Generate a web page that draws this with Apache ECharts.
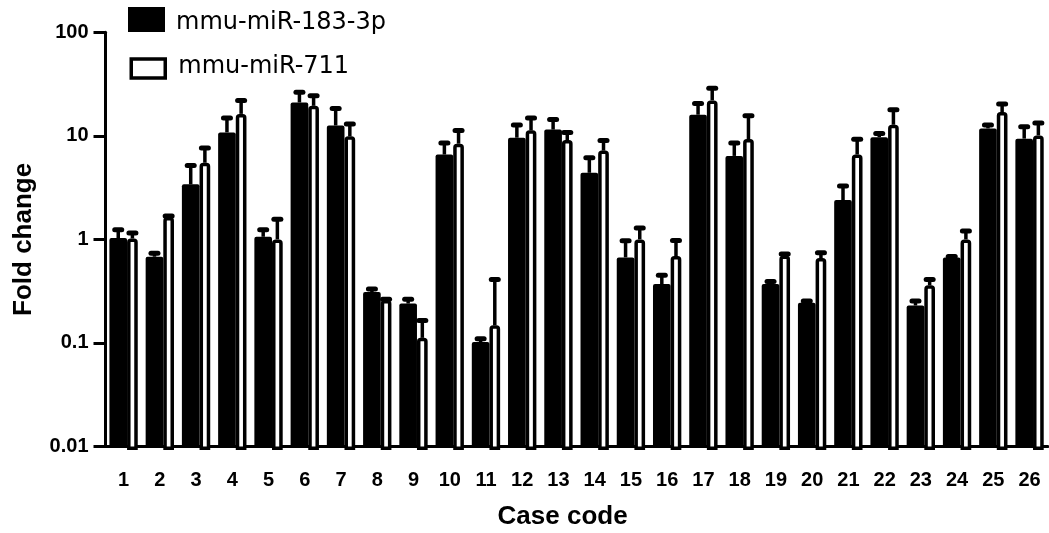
<!DOCTYPE html>
<html><head><meta charset="utf-8">
<script src="https://cdn.jsdelivr.net/npm/echarts@6/dist/echarts.min.js"></script>
<style>html,body{margin:0;padding:0;background:#fff}#c{width:1049px;height:533px}</style>
</head><body><div id="c"></div>
<script>
const categories = ['1','2','3','4','5','6','7','8','9','10','11','12','13','14','15','16','17','18','19','20','21','22','23','24','25','26'];
const mir183 =    [1.03, 0.68, 3.4, 10.8, 1.06, 21, 12.6, 0.31, 0.24, 6.6, 0.102, 9.6, 11.5, 4.4, 0.67, 0.37, 16, 6.4, 0.37, 0.245, 2.4, 9.7, 0.23, 0.67, 11.8, 9.4];
const mir183Err = [1.27, 0.75, 5.3, 15.2, 1.27, 27, 18.8, 0.34, 0.27, 8.7, 0.112, 13, 14.7, 6.3, 0.99, 0.46, 21, 8.7, 0.40, 0.26, 3.35, 10.8, 0.26, 0.70, 13, 12.5];
const mir711 =    [1.02, 1.65, 5.5, 16.3, 1.0, 19.5, 9.9, 0.26, 0.112, 8.4, 0.148, 11.3, 9.1, 7.2, 1.0, 0.69, 22, 9.3, 0.70, 0.66, 6.6, 12.8, 0.36, 1.0, 17, 10.1];
const mir711Err = [1.18, 1.72, 7.8, 22.5, 1.6, 25, 13.3, 0.27, 0.168, 11.5, 0.42, 15.2, 11, 9.2, 1.32, 1.0, 29.5, 16, 0.74, 0.76, 9.5, 18.3, 0.42, 1.23, 20.8, 13.6];
const yTickLabels = ['0.01','0.1','1','10','100'];
const seriesNames = ['mmu-miR-183-3p','mmu-miR-711'];

const chart = echarts.init(document.getElementById('c'));

function makeRender(x0f, x1f, filled) {
  return function (params, api) {
    const i = api.value(0);
    const top = api.coord([i, api.value(1)]);
    const base = api.coord([i, 0.01]);
    const errPt = api.coord([i, api.value(2)]);
    const bw = api.size([1, 0])[0];
    const cx = top[0];
    const xl = cx + x0f * bw, xr = cx + x1f * bw;
    const mid = (xl + xr) / 2;
    const children = [];
    children.push({type: 'line', shape: {x1: mid, y1: top[1], x2: mid, y2: errPt[1]}, style: {stroke: '#000', lineWidth: 3.5}});
    children.push({type: 'line', shape: {x1: mid - 3.5, y1: errPt[1] + 1, x2: mid + 3.5, y2: errPt[1] + 1}, style: {stroke: '#000', lineWidth: 5, lineCap: 'round'}});
    if (filled) {
      children.push({type: 'rect', shape: {x: xl, y: top[1], width: xr - xl, height: base[1] - top[1], r: [2, 2, 0, 0]}, style: {fill: '#000'}});
    } else {
      const b = 3.5;
      children.push({type: 'rect', shape: {x: xl + b / 2, y: top[1] + b / 2, width: xr - xl - b, height: base[1] - top[1], r: [2, 2, 0, 0]}, style: {fill: '#fff', stroke: '#000', lineWidth: b}});
    }
    return {type: 'group', children};
  };
}

const fontB = 'Liberation Sans';
const legendText = {fontFamily: 'DejaVu Sans', fontSize: 24, color: '#000'};
const option = {
  animation: false,
  backgroundColor: '#fff',
  grid: {left: 105.5, top: 32.3, width: 942.2, height: 414.2, containLabel: false, outerBoundsMode: 'none'},
  legend: [
    {left: 128, top: 7, padding: 0, itemWidth: 37, itemHeight: 25, selectedMode: false,
     data: [{name: seriesNames[0], icon: 'rect', itemStyle: {color: '#000', borderWidth: 0}}],
     formatter: '{t|{name}}',
     textStyle: Object.assign({}, legendText, {rich: {t: Object.assign({}, legendText, {padding: [6, 0, 0, 6]})}})},
    {left: 129.5, top: 54.5, padding: 0, itemWidth: 34, itemHeight: 19, selectedMode: false,
     data: [{name: seriesNames[1], icon: 'rect', itemStyle: {color: '#fff', borderColor: '#000', borderWidth: 3.5}}],
     formatter: '{t|{name}}',
     textStyle: Object.assign({}, legendText, {rich: {t: Object.assign({}, legendText, {padding: [0, 0, 4, 8]})}})}
  ],
  xAxis: {
    type: 'category', data: categories, boundaryGap: true,
    axisLine: {lineStyle: {color: '#000', width: 3}},
    axisTick: {alignWithLabel: true, length: 12, lineStyle: {color: '#000', width: 3}},
    axisLabel: {interval: 0, fontFamily: fontB, fontWeight: 'bold', fontSize: 20, color: '#000', margin: 24},
    name: 'Case code', nameLocation: 'middle', nameGap: 57,
    nameTextStyle: {fontFamily: fontB, fontWeight: 'bold', fontSize: 26, color: '#000', padding: [0, 28, 0, 0]}
  },
  yAxis: {
    type: 'log', logBase: 10, min: 0.01, max: 100,
    axisLine: {show: true, lineStyle: {color: '#000', width: 3}},
    axisTick: {show: true, length: 12, lineStyle: {color: '#000', width: 3}},
    splitLine: {show: false},
    axisLabel: {fontFamily: fontB, fontWeight: 'bold', fontSize: 20, color: '#000', margin: 17,
      formatter: function (v) { const k = Math.round(Math.log10(v)) + 2; return yTickLabels[k] !== undefined ? yTickLabels[k] : ''; }},
    name: 'Fold change', nameLocation: 'middle', nameGap: 69, nameRotate: 90,
    nameTextStyle: {fontFamily: fontB, fontWeight: 'bold', fontSize: 26, color: '#000'}
  },
  series: [
    {name: seriesNames[0], type: 'custom', itemStyle: {color: '#000'},
     encode: {x: 0, y: 1},
     data: categories.map((c, i) => [i, mir183[i], mir183Err[i]]),
     renderItem: makeRender(-0.392, 0.095, true)},
    {name: seriesNames[1], type: 'custom', itemStyle: {color: '#fff', borderColor: '#000', borderWidth: 3.5},
     encode: {x: 0, y: 1},
     data: categories.map((c, i) => [i, mir711[i], mir711Err[i]]),
     renderItem: makeRender(0.095, 0.39, false)}
  ]
};
chart.setOption(option);
</script>
</body></html>
